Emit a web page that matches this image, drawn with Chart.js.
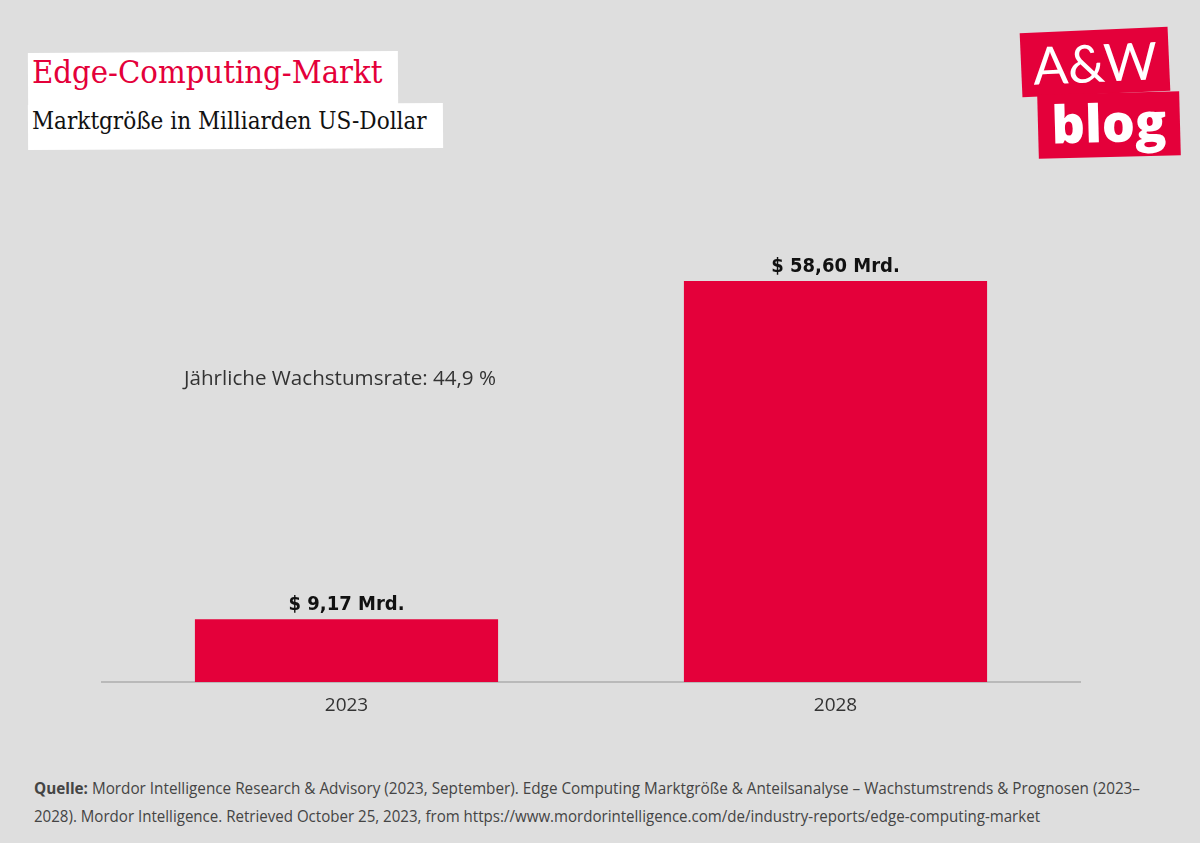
<!DOCTYPE html>
<html><head><meta charset="utf-8">
<script src="https://cdn.jsdelivr.net/npm/chart.js@4.4.1/dist/chart.umd.min.js"></script>
<style>
html,body{margin:0;padding:0;background:#dedede;width:1200px;height:843px;overflow:hidden;font-family:"Open Sans",sans-serif}
#wrap{position:absolute;left:0;top:0;width:1200px;height:760px}
.box{position:absolute;background:#fff}
.t{position:absolute;white-space:nowrap}
#title{left:32px;top:53px;font-family:"DejaVu Serif Condensed","DejaVu Serif",serif;font-size:32.5px;color:#e4003a}
#sub{left:32px;top:107px;font-family:"DejaVu Serif Condensed","DejaVu Serif",serif;font-size:24px;color:#111}
.logo{position:absolute;background:#e4003a;color:#fff;text-align:center}
#note{left:184px;top:363px;font-size:20.6px;font-weight:400;color:#333}
.foot{position:absolute;left:34px;font-family:"Open Sans",sans-serif;font-size:16px;color:#444;white-space:nowrap;transform-origin:0 0}
</style></head>
<body>
<div class="box" style="left:28px;top:52px;width:370px;height:54px;transform:rotate(-0.3deg)"></div>
<div class="box" style="left:28px;top:104px;width:415px;height:45px;transform:rotate(-0.3deg)"></div>
<div class="t" id="title">Edge-Computing-Markt</div>
<div class="t" id="sub">Marktgröße in Milliarden US-Dollar</div>
<div class="logo" style="left:1021px;top:30px;width:148px;height:64px;transform:rotate(-2.5deg)"><span style="font-family:Lato,'Open Sans',sans-serif;font-size:52px;line-height:64px">A&amp;W</span></div>
<div class="logo" style="left:1038px;top:93px;width:142px;height:64px;transform:rotate(-1.5deg)"><span style="font-family:'Open Sans',sans-serif;font-weight:800;font-size:52px;line-height:58px">blog</span></div>
<div id="wrap"><canvas id="c" width="1200" height="760"></canvas></div>
<div class="t" id="note">Jährliche Wachstumsrate: 44,9 %</div>
<div class="foot" id="f1" data-w="1106" style="top:777px"><b>Quelle:</b> Mordor Intelligence Research &amp; Advisory (2023, September). Edge Computing Marktgröße &amp; Anteilsanalyse – Wachstumstrends &amp; Prognosen (2023–</div>
<div class="foot" id="f2" data-w="1006" style="top:805px">2028). Mordor Intelligence. Retrieved October 25, 2023, from https://www.mordorintelligence.com/de/industry-reports/edge-computing-market</div>
<script>
const categories = ["2023", "2028"];
const marketSize = [9.17, 58.60];
const valueLabels = ["$ 9,17 Mrd.", "$ 58,60 Mrd."];

document.querySelectorAll('.foot').forEach(el => {
  const w = el.getBoundingClientRect().width;
  el.style.transform = 'scaleX(' + (parseFloat(el.dataset.w) / w) + ')';
});

const labelPlugin = {
  id: 'valueLabels',
  afterDatasetsDraw(chart) {
    const ctx = chart.ctx;
    const meta = chart.getDatasetMeta(0);
    ctx.save();
    ctx.font = 'bold 20px "DejaVu Sans Condensed", "DejaVu Sans", sans-serif';
    ctx.fillStyle = '#111';
    ctx.textAlign = 'center';
    ctx.textBaseline = 'middle';
    meta.data.forEach((el, i) => {
      ctx.fillText(valueLabels[i], el.x, el.y - 14);
    });
    ctx.restore();
  }
};

new Chart(document.getElementById('c'), {
  type: 'bar',
  data: {
    labels: categories,
    datasets: [{
      data: marketSize,
      backgroundColor: '#e4003a',
      borderWidth: 0,
      categoryPercentage: 1,
      barPercentage: 0.62
    }]
  },
  options: {
    responsive: false,
    devicePixelRatio: 1,
    animation: false,
    layout: { padding: { left: 102, right: 120, top: 203, bottom: 18 } },
    plugins: { legend: { display: false }, tooltip: { enabled: false } },
    scales: {
      x: {
        grid: { display: false, drawTicks: false },
        border: { display: true, color: '#b9b9b9', width: 2 },
        ticks: { color: '#333', padding: 12, font: { family: 'Open Sans', size: 19, weight: '400' } },
        afterFit(s) { s.height = 60; }
      },
      y: { display: false, min: 0, max: 70 }
    }
  },
  plugins: [labelPlugin]
});
</script>
</body></html>
